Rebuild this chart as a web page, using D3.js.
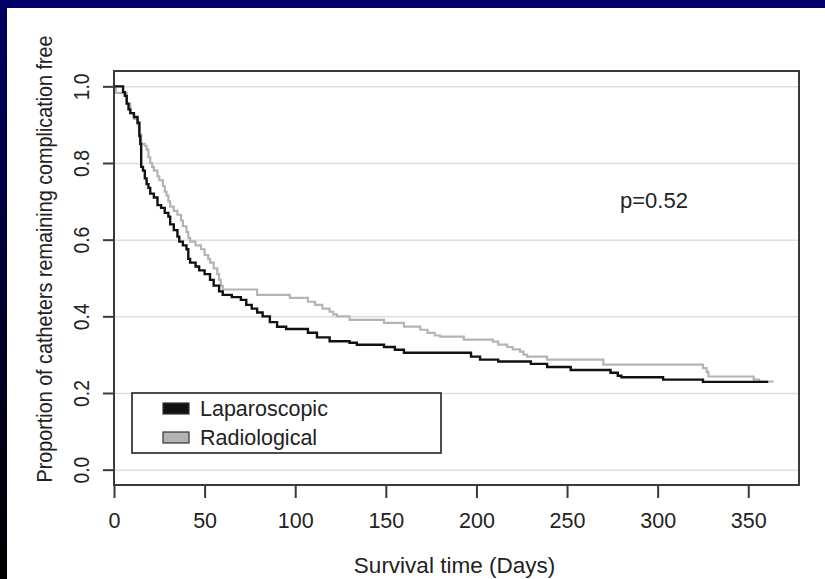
<!DOCTYPE html>
<html>
<head>
<meta charset="utf-8">
<script src="https://cdn.jsdelivr.net/npm/d3@7"></script>
<style>
  body { margin: 0; background: #ffffff; }
  svg { display: block; }
  text { font-family: "Liberation Sans", Arial, sans-serif; fill: #222; }
</style>
</head>
<body>
<div class="km-chart"></div>
<script>
// Kaplan-Meier step data
let lapDays = [0, 5, 6, 7, 8, 9, 11, 13, 14, 14.5, 15, 16, 17, 18, 19, 20, 22, 24, 26, 28, 30, 31, 33, 35, 36, 38, 40, 41, 42, 45, 47, 50, 53, 55, 58, 60, 65, 70, 73, 76, 79, 82, 86, 90, 95, 107, 112, 119, 130, 134, 149, 155, 160, 197, 202, 212, 230, 239, 252, 274, 278, 280, 303, 325, 361];
let lapSurv = [1.0, 0.985, 0.975, 0.955, 0.94, 0.93, 0.92, 0.905, 0.87, 0.85, 0.79, 0.78, 0.76, 0.745, 0.735, 0.72, 0.71, 0.69, 0.683, 0.67, 0.66, 0.64, 0.625, 0.608, 0.595, 0.585, 0.575, 0.55, 0.54, 0.53, 0.52, 0.51, 0.495, 0.48, 0.465, 0.456, 0.45, 0.443, 0.43, 0.42, 0.41, 0.40, 0.385, 0.373, 0.367, 0.357, 0.345, 0.335, 0.331, 0.326, 0.32, 0.313, 0.305, 0.295, 0.287, 0.282, 0.276, 0.268, 0.26, 0.253, 0.245, 0.241, 0.235, 0.229, 0.229];

let radDays = [0, 1, 7, 9, 11, 13, 14, 15, 17, 18, 19, 20, 21, 22, 24, 25, 27, 28, 29, 30, 31, 33, 35, 37, 38, 40, 41, 42, 45, 48, 50, 52, 53, 55, 57, 58, 59, 60, 79, 97, 107, 111, 115, 119, 121, 123, 130, 149, 160, 169, 173, 177, 180, 193, 209, 212, 217, 220, 224, 226, 228, 239, 270, 325, 327, 328, 353, 356, 364];
let radSurv = [1.0, 0.983, 0.955, 0.93, 0.915, 0.90, 0.875, 0.85, 0.845, 0.835, 0.815, 0.80, 0.79, 0.78, 0.765, 0.755, 0.74, 0.725, 0.715, 0.70, 0.686, 0.675, 0.665, 0.65, 0.635, 0.62, 0.605, 0.595, 0.585, 0.575, 0.56, 0.55, 0.54, 0.525, 0.51, 0.495, 0.48, 0.47, 0.456, 0.448, 0.438, 0.43, 0.42, 0.412, 0.405, 0.40, 0.391, 0.383, 0.373, 0.365, 0.357, 0.35, 0.347, 0.339, 0.334, 0.326, 0.32, 0.314, 0.308, 0.30, 0.295, 0.287, 0.274, 0.265, 0.255, 0.243, 0.235, 0.23, 0.23];

let xTicks = [0, 50, 100, 150, 200, 250, 300, 350];
let yTicks = [0.0, 0.2, 0.4, 0.6, 0.8, 1.0];
let groupNames = ["Laparoscopic", "Radiological"];
let groupColors = ["#111111", "#b4b4b4"];
let pLabel = "p=0.52";

let width = 825, height = 579;
let svg = d3.select(".km-chart").append("svg")
    .attr("width", width)
    .attr("height", height);

// slide background: navy top strip, left strip fading to black
let defs = svg.append("defs");
let grad = defs.append("linearGradient").attr("id", "leftFade")
    .attr("x1", 0).attr("y1", 0).attr("x2", 0).attr("y2", 1);
grad.append("stop").attr("offset", "0%").attr("stop-color", "#000066");
grad.append("stop").attr("offset", "100%").attr("stop-color", "#000000");

svg.append("rect").attr("width", width).attr("height", height).attr("fill", "#000066");
svg.append("rect").attr("width", 7).attr("height", height).attr("fill", "url(#leftFade)");
svg.append("rect").attr("x", 7).attr("y", 8).attr("width", width - 7).attr("height", height - 8)
    .attr("fill", "#ffffff");

let frame = {left: 114, right: 799, top: 71, bottom: 485};

let x = d3.scaleLinear().domain([0, 378]).range([frame.left, frame.right]);
let y = d3.scaleLinear().domain([-0.04, 1.04]).range([frame.bottom, frame.top]);

// grid lines
svg.append("g")
    .attr("class", "grid")
    .attr("transform", "translate(" + frame.left + ",0)")
    .call(d3.axisLeft(y).tickValues(yTicks).tickSize(-(frame.right - frame.left)).tickFormat(""))
    .call(g => g.select(".domain").remove())
    .call(g => g.selectAll("line").attr("stroke", "#dedede").attr("stroke-width", 1.5));

// curves
let line = d3.line()
    .x(d => x(d[0]))
    .y(d => y(d[1]))
    .curve(d3.curveStepAfter);

let lapPoints = lapDays.map((d, i) => [d, lapSurv[i]]);
let radPoints = radDays.map((d, i) => [d, radSurv[i]]);

svg.append("path")
    .datum(radPoints)
    .attr("fill", "none")
    .attr("stroke", groupColors[1])
    .attr("stroke-width", 2.2)
    .attr("d", line);

svg.append("path")
    .datum(lapPoints)
    .attr("fill", "none")
    .attr("stroke", groupColors[0])
    .attr("stroke-width", 2.4)
    .attr("d", line);

// frame
svg.append("rect")
    .attr("x", frame.left).attr("y", frame.top)
    .attr("width", frame.right - frame.left).attr("height", frame.bottom - frame.top)
    .attr("fill", "none").attr("stroke", "#3a3a3a").attr("stroke-width", 2);

// axes
let xAxis = svg.append("g")
    .attr("transform", "translate(0," + frame.bottom + ")")
    .call(d3.axisBottom(x).tickValues(xTicks).tickSize(13).tickPadding(15).tickFormat(d3.format("d")));
xAxis.select(".domain").attr("stroke", "#3a3a3a").attr("stroke-width", 2)
    .attr("d", "M" + x(0) + ",0H" + x(350));
xAxis.selectAll("line").attr("stroke", "#3a3a3a").attr("stroke-width", 2);
xAxis.selectAll("text").attr("font-size", 21.5).attr("fill", "#222")
    .style("font-family", "Liberation Sans, Arial, sans-serif");

let yAxis = svg.append("g")
    .attr("transform", "translate(" + frame.left + ",0)")
    .call(d3.axisLeft(y).tickValues(yTicks).tickSize(11).tickFormat(d3.format(".1f")));
yAxis.select(".domain").attr("stroke", "#3a3a3a").attr("stroke-width", 2)
    .attr("d", "M0," + y(0) + "V" + y(1));
yAxis.selectAll("line").attr("stroke", "#3a3a3a").attr("stroke-width", 2);
yAxis.selectAll("text")
    .attr("font-size", 21.5)
    .attr("fill", "#222")
    .style("font-family", "Liberation Sans, Arial, sans-serif")
    .attr("x", null).attr("dy", null)
    .attr("text-anchor", "middle")
    .attr("transform", "translate(-25,0) rotate(-90) scale(0.9,1)");

// axis titles
svg.append("text")
    .attr("x", (frame.left + frame.right) / 2 - 2)
    .attr("y", 573)
    .attr("text-anchor", "middle")
    .attr("font-size", 22.5)
    .text("Survival time (Days)");

svg.append("text")
    .attr("transform", "translate(52," + ((frame.top + frame.bottom) / 2 - 19) + ") rotate(-90) scale(0.92,1)")
    .attr("text-anchor", "middle")
    .attr("font-size", 21.5)
    .text("Proportion of catheters remaining complication free");

// p value
svg.append("text")
    .attr("x", 620).attr("y", 208)
    .attr("font-size", 22)
    .text(pLabel);

// legend
let legend = svg.append("g").attr("transform", "translate(132,393)");
legend.append("rect")
    .attr("width", 309).attr("height", 60)
    .attr("fill", "#ffffff").attr("stroke", "#3a3a3a").attr("stroke-width", 1.8);
groupNames.forEach((name, i) => {
    legend.append("rect")
        .attr("x", 31).attr("y", 10 + i * 29)
        .attr("width", 26).attr("height", 11)
        .attr("fill", groupColors[i]).attr("stroke", "#333").attr("stroke-width", 1.2);
    legend.append("text")
        .attr("x", 68).attr("y", 23 + i * 29)
        .attr("font-size", 21.5)
        .text(name);
});
</script>
</body>
</html>
